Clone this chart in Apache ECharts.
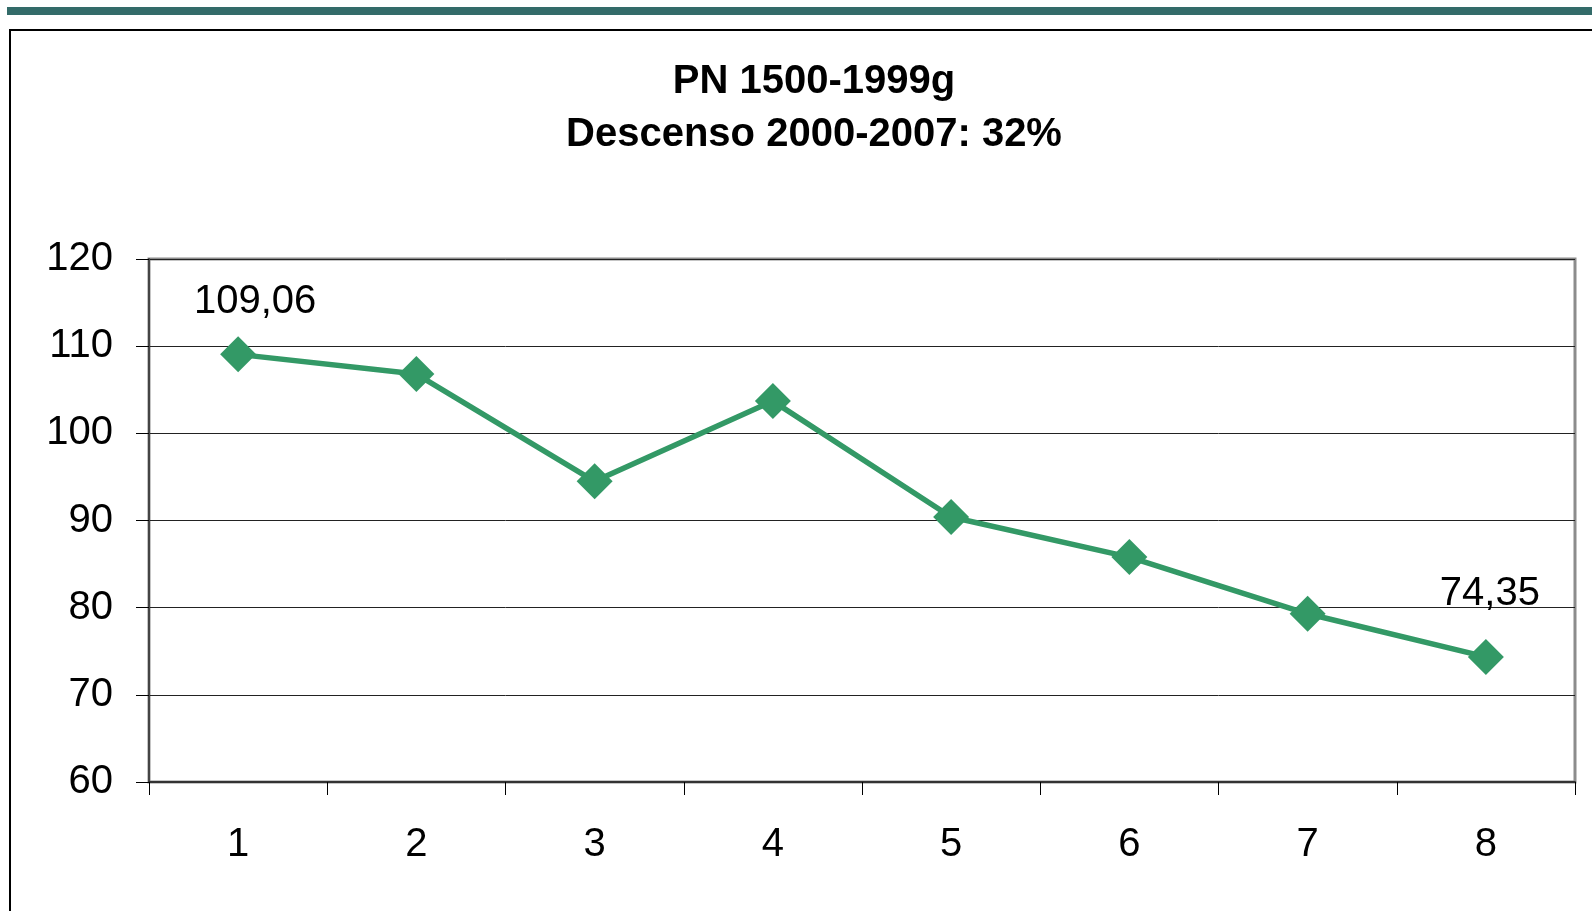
<!DOCTYPE html>
<html>
<head>
<meta charset="utf-8">
<script src="https://cdn.jsdelivr.net/npm/echarts@6/dist/echarts.min.js"></script>
<style>
  html, body { margin: 0; padding: 0; background: #fff; }
  #chart { width: 1592px; height: 911px; }
</style>
</head>
<body>
<div id="chart"></div>
<script>
const categories = ['1', '2', '3', '4', '5', '6', '7', '8'];
const values = [109.06, 106.8, 94.5, 103.7, 90.4, 85.8, 79.3, 74.35];
const labelledPoints = [0, 7];
const titleLines = ['PN 1500-1999g', 'Descenso 2000-2007: 32%'];

const chart = echarts.init(document.getElementById('chart'));

const fmt = v => String(v).replace('.', ',');

// solo el primer y el último punto llevan etiqueta
const seriesData = values.map((v, i) => {
  if (!labelledPoints.includes(i)) return v;
  return {
    value: v,
    label: {
      show: true,
      formatter: p => fmt(p.value),
      offset: i === 0 ? [17, -9] : [4, -20]
    }
  };
});

const option = {
  animation: false,
  textStyle: { fontFamily: 'Liberation Sans, Arial, sans-serif' },
  title: {
    text: titleLines.join('\n'),
    left: 809,
    top: 50,
    textAlign: 'center',
    textStyle: {
      fontSize: 40,
      fontWeight: 'bold',
      color: '#000',
      lineHeight: 53,
      fontFamily: 'Liberation Sans, Arial, sans-serif'
    }
  },
  graphic: [
    { type: 'rect', shape: { x: 7, y: 7, width: 1600, height: 8 }, style: { fill: '#336b69' }, silent: true },
    { type: 'rect', shape: { x: 10, y: 30, width: 1700, height: 1000 }, style: { fill: 'none', stroke: '#000', lineWidth: 2 }, silent: true }
  ],
  grid: {
    left: 149,
    right: 17,
    top: 259,
    bottom: 129,
    show: true,
    borderColor: '#8c8c8c',
    borderWidth: 3,
    backgroundColor: 'transparent'
  },
  xAxis: {
    type: 'category',
    data: categories,
    boundaryGap: true,
    axisLine: { lineStyle: { color: '#333', width: 2 } },
    axisTick: { show: true, length: 13, lineStyle: { color: '#000', width: 1 } },
    axisLabel: { fontSize: 40, color: '#000', margin: 43 },
    splitLine: { show: false }
  },
  yAxis: {
    type: 'value',
    min: 60,
    max: 120,
    interval: 10,
    axisLine: { show: true, lineStyle: { color: '#444', width: 2 } },
    axisTick: { show: true, length: 13, lineStyle: { color: '#000', width: 1 } },
    axisLabel: { fontSize: 40, color: '#000', margin: 36 },
    splitLine: { show: true, lineStyle: { color: '#222', width: 1 } }
  },
  series: [{
    type: 'line',
    data: seriesData,
    symbol: 'diamond',
    symbolSize: 36,
    lineStyle: { color: '#339966', width: 5.5 },
    itemStyle: { color: '#339966' },
    label: {
      show: false,
      position: 'top',
      fontSize: 40,
      color: '#000'
    }
  }]
};

chart.setOption(option);
</script>
</body>
</html>
